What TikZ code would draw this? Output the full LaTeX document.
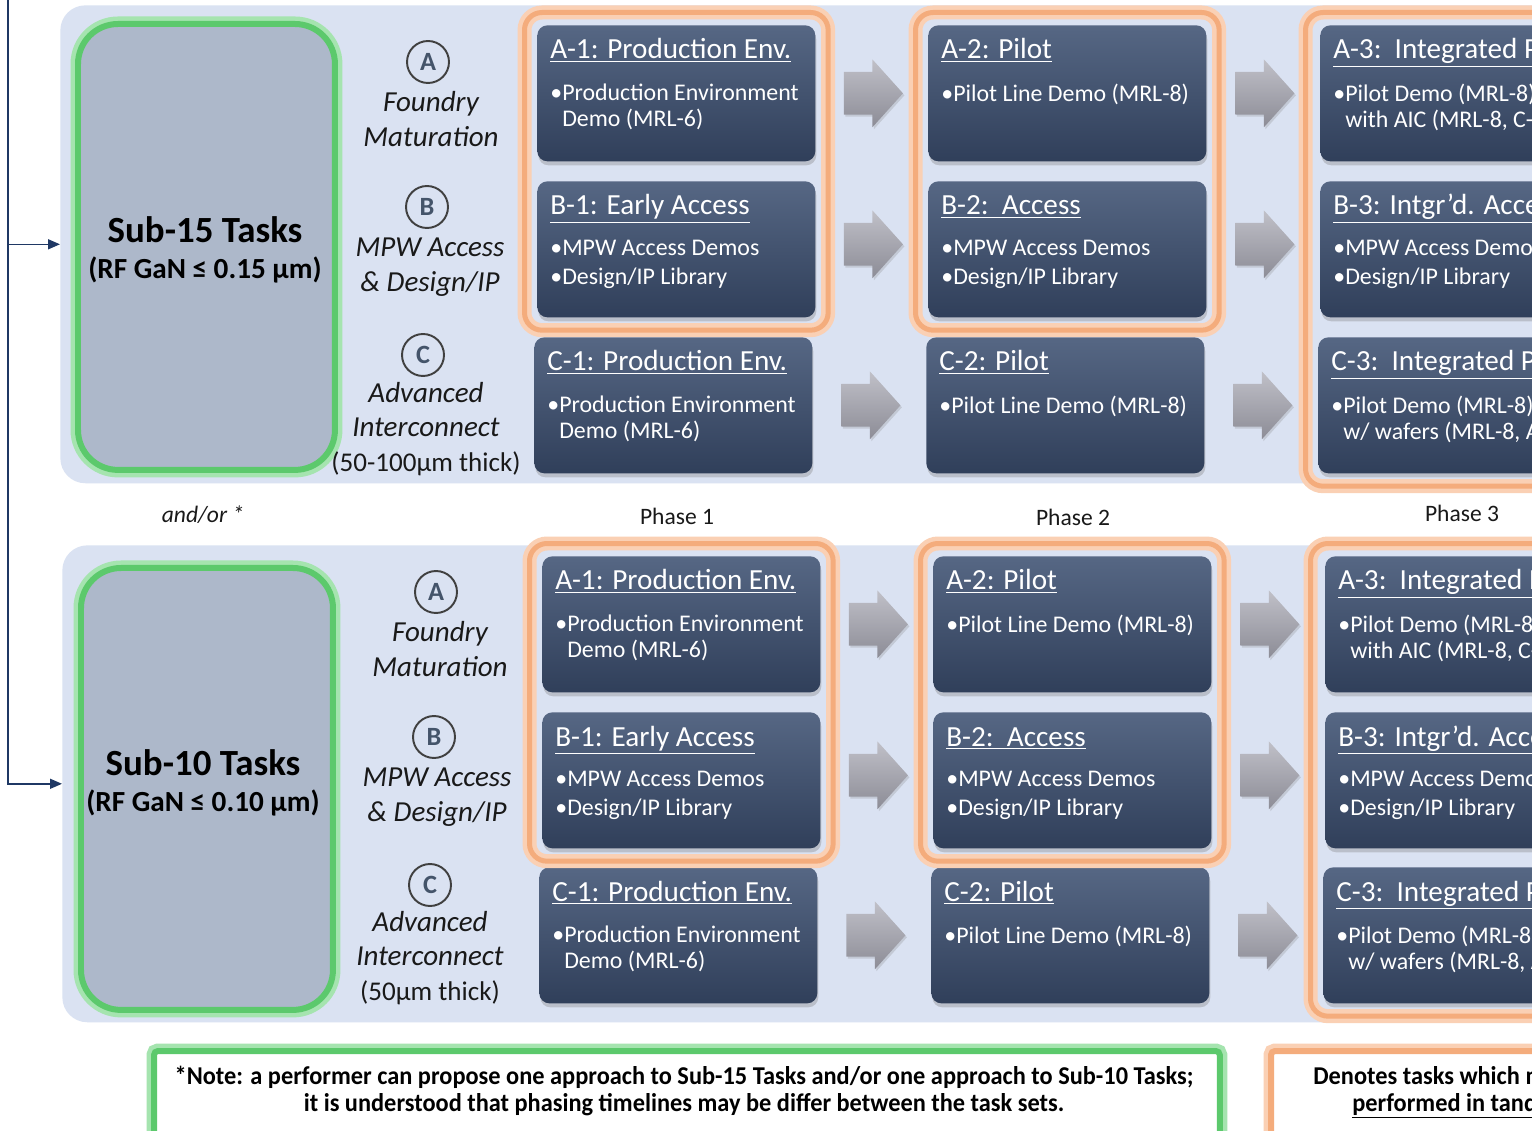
\documentclass[tikz,border=0pt]{standalone}
\usepackage{fontspec}
\setmainfont{Carlito}
\newfontfamily\legfont[FakeStretch=0.95]{Carlito}
\usetikzlibrary{shapes.arrows,shadows,fit,arrows.meta,calc}

\definecolor{panelc}{RGB}{218,226,242}
\definecolor{gboxfill}{RGB}{173,184,202}
\definecolor{grn}{RGB}{92,201,108}
\definecolor{grnglow}{RGB}{165,228,175}
\definecolor{orng}{RGB}{244,172,124}
\definecolor{orngglow}{RGB}{250,208,180}
\definecolor{tbtop}{RGB}{86,103,132}
\definecolor{tbbot}{RGB}{48,63,90}
\definecolor{navy}{RGB}{31,56,100}
\definecolor{letc}{RGB}{68,84,106}
\definecolor{ringc}{RGB}{64,64,64}
\definecolor{arrtop}{RGB}{192,192,200}
\definecolor{arrbot}{RGB}{140,140,150}
\definecolor{txtc}{RGB}{25,25,25}

\tikzset{
  panel/.style={fill=panelc, rounded corners=0.5cm, minimum width=31.2cm, anchor=north west, inner sep=0pt},
  gbox/.style={draw=grn, line width=0.12cm, fill=gboxfill, rounded corners=0.8cm, anchor=north west, inner sep=0pt,
    preaction={draw=grnglow, line width=0.3cm}},
  tbox/.style={rounded corners=0.2cm, minimum width=5.56cm, minimum height=2.72cm, anchor=north west, inner sep=0pt,
    top color=tbtop, bottom color=tbbot,
    drop shadow={shadow xshift=0.02cm, shadow yshift=-0.08cm, opacity=0.35}},
  ttitle/.style={text=white, font=\fontsize{16.6}{19.8}\selectfont, anchor=base west, inner sep=0pt},
  tbody/.style={text=white, font=\fontsize{13.6}{14.7}\selectfont, anchor=north west, align=left, inner sep=0pt},
  garrow/.style={single arrow, single arrow head extend=0.25cm, single arrow tip angle=96,
    minimum height=1.18cm, inner xsep=0pt, inner ysep=0.42cm,
    top color=arrtop, bottom color=arrbot,
    drop shadow={shadow xshift=0.03cm, shadow yshift=-0.04cm, opacity=0.25}},
  hl/.style={draw=orng, line width=0.1cm, rounded corners=0.35cm, inner sep=0.25cm,
    preaction={draw=orngglow, line width=0.28cm}},
  ring/.style={circle, draw=ringc, line width=1.1pt, minimum size=0.84cm, inner sep=0pt,
    font=\fontsize{15}{15}\selectfont\bfseries, text=letc},
  lab/.style={align=center, text=txtc, font=\fontsize{16.5}{19.8}\selectfont\itshape, inner sep=0pt},
  big/.style={text=black, font=\fontsize{21}{25}\selectfont\bfseries, inner sep=0pt},
  bigsub/.style={text=black, font=\fontsize{16.6}{19}\selectfont\bfseries, inner sep=0pt},
  phase/.style={text=txtc, font=\fontsize{13.4}{16}\selectfont, inner sep=0pt},
  conn/.style={draw=navy, line width=0.85pt, -{Triangle[length=0.24cm,width=0.2cm]}},
  legtxt/.style={text=black, font=\fontsize{14.6}{17}\selectfont\legfont\bfseries, inner sep=0pt},
}

\newcommand\tbx[5]{%
  \node[tbox] (#1) at (#2,#3) {};
  \node[ttitle] (#1t) at ([shift={(13,34)}]#1.north west) {\underline{#4}};
  \node[tbody] (#1b) at ([shift={(13,59)}]#1.north west) {#5};
}
\newcommand\thick[1]{{\upshape\fontsize{15.4}{19.8}\selectfont #1}}

\begin{document}
\begin{tikzpicture}[x=0.02cm, y=-0.02cm]
\clip (0,0) rectangle (1532,1131);
\fill[white] (0,0) rectangle (1532,1131);

% ---------- panels ----------
\node[panel, minimum height=9.56cm] (panel1) at (60,5) {};
\node[panel, minimum height=9.54cm] (panel2) at (62,545) {};

% ---------- left connector ----------
\coordinate (topin) at (8,-10);
\draw[conn] (topin) |- (panel1.west);
\draw[conn] (topin) |- (panel2.west);

% ---------- Sub-15 ----------
\node[gbox, minimum width=5.14cm, minimum height=8.92cm] (g1) at (75,21) {};
\node[big] (g1a) at (205,230) {Sub-15 Tasks};
\node[bigsub] (g1b) at (205,270) {(RF GaN ≤ 0.15 µm)};

\node[ring] (cA1) at (428,62) {A};
\node[lab] (lA1) at (431,119) {Foundry\\Maturation};
\node[ring] (cB1) at (427,207) {B};
\node[lab] (lB1) at (430,267) {MPW Access\\\& Design/IP};
\node[ring] (cC1) at (423,355) {C};
\node[lab] (lC1) at (426,429) {Advanced\\Interconnect\\\thick{(50-100µm thick)}};

\tbx{A1}{537}{25}{A-1: Production Env.}{•Production Environment\\\hphantom{•}Demo (MRL-6)}
\tbx{B1}{537}{181}{B-1: Early Access}{•MPW Access Demos\\[1.8pt]•Design/IP Library}
\tbx{C1}{534}{337}{C-1: Production Env.}{•Production Environment\\\hphantom{•}Demo (MRL-6)}
\tbx{A2}{928}{25}{A-2: Pilot}{•Pilot Line Demo (MRL-8)}
\tbx{B2}{928}{181}{B-2:\ \ Access}{•MPW Access Demos\\[1.8pt]•Design/IP Library}
\tbx{C2}{926}{337}{C-2: Pilot}{•Pilot Line Demo (MRL-8)}
\tbx{A3}{1320}{25}{A-3:\ \ Integrated Pilot}{•Pilot Demo (MRL-8)\\\hphantom{•}with AIC (MRL-8, C-3)}
\tbx{B3}{1320}{181}{B-3: Intgr’d. Access}{•MPW Access Demos\\[1.8pt]•Design/IP Library}
\tbx{C3}{1318}{337}{C-3:\ \ Integrated Pilot}{•Pilot Demo (MRL-8)\\\hphantom{•}w/ wafers (MRL-8, A-3)}

\node[hl, fit=(A1)(B1)] (h11) {};
\node[hl, fit=(A2)(B2)] (h12) {};
\node[hl, fit=(A3)(C3)] (h13) {};

\node[garrow] (r1a) at ($(A1.east)!0.5!(A2.west)+(-8,0)$) {};
\node[garrow] (r1b) at ($(B1.east)!0.5!(B2.west)+(-8,-5)$) {};
\node[garrow] (r1c) at ($(C1.east)!0.5!(C2.west)+(-8,0)$) {};
\node[garrow] (r2a) at ($(A2.east)!0.5!(A3.west)+(-8,0)$) {};
\node[garrow] (r2b) at ($(B2.east)!0.5!(B3.west)+(-8,-5)$) {};
\node[garrow] (r2c) at ($(C2.east)!0.5!(C3.west)+(-8,0)$) {};

% ---------- middle labels ----------
\node[phase, font=\fontsize{13.4}{16}\selectfont\itshape] (andor) at (203,515) {and/or *};
\node[phase] (ph1) at (677,516) {Phase 1};
\node[phase] (ph2) at (1073,517) {Phase 2};
\node[phase] (ph3) at (1462,513) {Phase 3};

% ---------- Sub-10 ----------
\node[gbox, minimum width=5.04cm, minimum height=8.84cm] (g2) at (78,565) {};
\node[big] (g2a) at (203,763) {Sub-10 Tasks};
\node[bigsub] (g2b) at (203,803) {(RF GaN ≤ 0.10 µm)};

\node[ring] (cA2) at (436,592) {A};
\node[lab] (lA2) at (440,649) {Foundry\\Maturation};
\node[ring] (cB2) at (434,737) {B};
\node[lab] (lB2) at (437,797) {MPW Access\\\& Design/IP};
\node[ring] (cC2) at (430,885) {C};
\node[lab] (lC2) at (430,958) {Advanced\\Interconnect\\\thick{(50µm thick)}};

\tbx{D1}{542}{556}{A-1: Production Env.}{•Production Environment\\\hphantom{•}Demo (MRL-6)}
\tbx{E1}{542}{712}{B-1: Early Access}{•MPW Access Demos\\[1.8pt]•Design/IP Library}
\tbx{F1}{539}{867}{C-1: Production Env.}{•Production Environment\\\hphantom{•}Demo (MRL-6)}
\tbx{D2}{933}{556}{A-2: Pilot}{•Pilot Line Demo (MRL-8)}
\tbx{E2}{933}{712}{B-2:\ \ Access}{•MPW Access Demos\\[1.8pt]•Design/IP Library}
\tbx{F2}{931}{867}{C-2: Pilot}{•Pilot Line Demo (MRL-8)}
\tbx{D3}{1325}{556}{A-3:\ \ Integrated Pilot}{•Pilot Demo (MRL-8)\\\hphantom{•}with AIC (MRL-8, C-3)}
\tbx{E3}{1325}{712}{B-3: Intgr’d. Access}{•MPW Access Demos\\[1.8pt]•Design/IP Library}
\tbx{F3}{1323}{867}{C-3:\ \ Integrated Pilot}{•Pilot Demo (MRL-8)\\\hphantom{•}w/ wafers (MRL-8, A-3)}

\node[hl, fit=(D1)(E1)] (h21) {};
\node[hl, fit=(D2)(E2)] (h22) {};
\node[hl, fit=(D3)(F3)] (h23) {};

\node[garrow] (s1a) at ($(D1.east)!0.5!(D2.west)+(-8,0)$) {};
\node[garrow] (s1b) at ($(E1.east)!0.5!(E2.west)+(-8,-5)$) {};
\node[garrow] (s1c) at ($(F1.east)!0.5!(F2.west)+(-8,0)$) {};
\node[garrow] (s2a) at ($(D2.east)!0.5!(D3.west)+(-8,0)$) {};
\node[garrow] (s2b) at ($(E2.east)!0.5!(E3.west)+(-8,-5)$) {};
\node[garrow] (s2c) at ($(F2.east)!0.5!(F3.west)+(-8,0)$) {};

% ---------- legend ----------
\node[draw=grn, line width=0.12cm, fill=white, anchor=north west, inner sep=0pt,
      minimum width=21.32cm, minimum height=2cm, rounded corners=0.08cm,
      preaction={draw=grnglow, line width=0.3cm}] (leg1) at (151,1048) {};
\node[legtxt] (leg1a) at (684,1077) {*Note: a performer can propose one approach to Sub-15 Tasks and/or one approach to Sub-10 Tasks;};
\node[legtxt] (leg1b) at (684,1105) {it is understood that phasing timelines may be differ between the task sets.};

\node[draw=orng, line width=0.12cm, fill=white, anchor=north west, inner sep=0pt,
      minimum width=8cm, minimum height=2cm, rounded corners=0.08cm,
      preaction={draw=orngglow, line width=0.3cm}] (leg2) at (1268,1048) {};
\node[legtxt, anchor=west] (leg2a) at (1313,1076) {Denotes tasks which must be};
\node[legtxt, anchor=west] (leg2b) at (1352,1106) {\underline{performed in tandem}};
\end{tikzpicture}
\end{document}
